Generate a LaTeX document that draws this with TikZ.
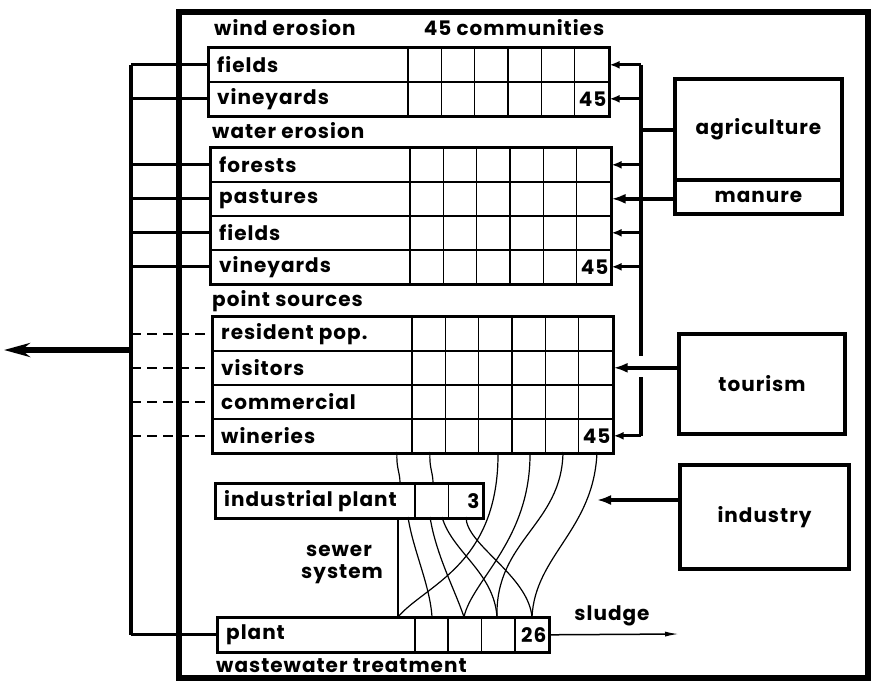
\documentclass[tikz,border=0pt]{standalone}
\usepackage{fontspec}
\setmainfont{Poppins}[LetterSpace=5]
\usetikzlibrary{arrows.meta}
\newcommand\lblfont{\fontsize{20}{17}\selectfont\bfseries}
\newcommand\trow[5]{%
  \node[rowbox,minimum width=#4pt,anchor=north west] (#1) at (#2,#3) {};
  \node[lbl,anchor=west] (#1t) at ([xshift=9pt]#1.west) {#5};}
\tikzset{
  rowbox/.style={draw, line width=1.6pt, minimum height=34pt, inner sep=0pt},
  lbl/.style={font=\lblfont, inner sep=0pt},
  tframe/.style={line width=2.6pt},
  cellline/.style={line width=1.4pt},
  outerframe/.style={line width=5.5pt},
  bigbox/.style={draw, line width=4pt, inner sep=0pt, font=\lblfont},
  lconn/.style={line width=3pt},
  dconn/.style={line width=2.6pt, dash pattern=on 10pt off 6pt},
  bus/.style={line width=4pt},
  feed/.style={line width=3pt, -{Latex[length=10pt,width=8pt]}},
  thickfeed/.style={line width=4pt, -{Latex[length=14pt,width=10pt]}},
  outarrow/.style={line width=5.5pt, -{Stealth[length=26pt,width=14pt]}},
  sewer/.style={line width=1.2pt},
  sludgearrow/.style={line width=1.5pt, -{Latex[length=14pt,width=5pt]}},
}
\begin{document}
\begin{tikzpicture}[x=1pt,y=-1pt]
\useasboundingbox (0,0) rectangle (872,685);
% outer frame
\draw[outerframe] (179,12) rectangle (868,678);

% headings
\node[lbl,anchor=west] (hwind) at (214,28) {wind erosion};
\node[lbl] (hcomm) at (514,28) {45 communities};
\node[lbl,anchor=west] (hwater) at (212,131) {water erosion};
\node[lbl,anchor=west] (hpoint) at (212,301) {point sources};

% wind erosion table
\trow{wf}{208}{47}{400}{fields}
\trow{wv}{208}{81}{400}{vineyards}
\draw[tframe] (wf.north west) rectangle (wv.south east);
\foreach \k in {0,...,5}{\pgfmathsetmacro\xx{408+\k*33.333}
  \draw[cellline] (\xx,47) -- (\xx,115);}
\node[lbl,anchor=east] (wv45) at ([xshift=-3pt]wv.east) {45};

% water erosion table
\trow{ef}{210}{147}{400}{forests}
\trow{ep}{210}{181}{400}{pastures}
\trow{ei}{210}{215}{400}{fields}
\trow{ev}{210}{249}{400}{vineyards}
\draw[tframe] (ef.north west) rectangle (ev.south east);
\foreach \k in {0,...,5}{\pgfmathsetmacro\xx{410+\k*33.333}
  \draw[cellline] (\xx,147) -- (\xx,283);}
\node[lbl,anchor=east] (ev45) at ([xshift=-3pt]ev.east) {45};

% point sources table
\trow{pr}{212}{316}{400}{resident pop.}
\trow{pv}{212}{350}{400}{visitors}
\trow{pc}{212}{384}{400}{commercial}
\trow{pw}{212}{418}{400}{wineries}
\draw[tframe] (pr.north west) rectangle (pw.south east);
\foreach \k in {0,...,5}{\pgfmathsetmacro\xx{412+\k*33.333}
  \draw[cellline] (\xx,316) -- (\xx,452);}
\node[lbl,anchor=east] (pw45) at ([xshift=-3pt]pw.east) {45};

% industrial plant
\trow{ind}{215}{483}{267}{industrial plant}
\draw[tframe] (ind.north west) rectangle (ind.south east);
\foreach \xx in {415,448.5}{\draw[cellline] (\xx,483) -- (\xx,517);}
\node[lbl,anchor=east] (ind3) at ([xshift=-4pt]ind.east) {3};

% wastewater treatment plant
\trow{pl}{217}{617}{331}{plant}
\draw[tframe] (pl.north west) rectangle (pl.south east);
\foreach \xx in {415,448,481.5,515}{\draw[cellline] (\xx,617) -- (\xx,651);}
\node[lbl,anchor=east] (pl26) at ([xshift=-3pt]pl.east) {26};
\node[lbl,anchor=west] (hww) at (216,666) {wastewater treatment};
\node[lbl] (sewer1) at (339,551) {sewer};
\node[lbl] (sewer2) at (342,574) {system};

% sector boxes
\node[bigbox,minimum width=167pt,minimum height=101pt,anchor=north west] (agri) at (673,77) {agriculture};
\node[bigbox,minimum width=167pt,minimum height=34pt,anchor=north west] (man) at (673,178) {manure};
\node[bigbox,minimum width=166pt,minimum height=100pt,anchor=north west] (tour) at (677,332) {tourism};
\node[bigbox,minimum width=169pt,minimum height=104pt,anchor=north west] (indy) at (678,463) {industry};

% left collector bus
\coordinate (lb) at (131,0);
\draw[bus] (wf.west -| lb) -- (pl.west -| lb);
\foreach \r in {wf,wv,ef,ep,ei,ev}{\draw[lconn] (\r.west -| lb) -- (\r.west);}
\foreach \r in {pr,pv,pc,pw}{\draw[dconn] (\r.west -| lb) -- (\r.west);}
\draw[lconn] (pl.west -| lb) -- (pl.west);
\coordinate (outs) at (131,350);
\coordinate (oute) at (4,350);
\draw[outarrow] (outs) -- (oute);

% right feeder bus
\coordinate (rb) at (641,0);
\coordinate (rgapT) at (641,356);
\coordinate (rgapB) at (641,377);
\draw[bus] (wf.east -| rb) -- (rgapT);
\draw[bus] (rgapB) -- (pw.east -| rb);
\draw[bus] (agri.west) -- (agri.west -| rb);
\foreach \r in {wf,wv,ef,ei,ev,pw}{\draw[feed] (\r.east -| rb) -- (\r.east);}
\draw[thickfeed] (ep.east -| man.west) -- (ep.east);
\draw[thickfeed] (pv.east -| tour.west) -- (pv.east);
\coordinate (indys) at (678,500);
\coordinate (indye) at (597,500);
\draw[thickfeed] (indys) -- (indye);

% sludge
\coordinate (sludgee) at (679,634);
\draw[sludgearrow] (pl.east) -- (sludgee);
\node[lbl] (sludge) at (612,616) {sludge};

% sewer system
\coordinate (a1) at (397,452); \coordinate (a2) at (430,452);
\coordinate (a3) at (498,452); \coordinate (a4) at (530,452);
\coordinate (a5) at (563,452); \coordinate (a6) at (597,452);
\coordinate (i1) at (400,483); \coordinate (i2) at (433,483);
\coordinate (b1) at (398,517); \coordinate (b2) at (408,517);
\coordinate (b3) at (430,517); \coordinate (b4) at (442,517);
\coordinate (b5) at (466,517);
\coordinate (p1) at (398,617); \coordinate (p2) at (432,617);
\coordinate (p3) at (464,617); \coordinate (p4) at (497,617);
\coordinate (p5) at (532,617);
\draw[sewer] (a1) .. controls (396,468) and (400,472) .. (i1);
\draw[sewer] (a2) .. controls (429,468) and (433,472) .. (i2);
\draw[sewer] (b1) -- (p1);
\draw[sewer] (b2) .. controls (413,550) and (430,585) .. (p2);
\draw[sewer] (b3) .. controls (436,555) and (455,590) .. (p3);
\draw[sewer] (b4) .. controls (452,552) and (494,572) .. (p4);
\draw[sewer] (b5) .. controls (466,545) and (528,575) .. (p5);
\draw[sewer] (a3) .. controls (499,565) and (425,585) .. (p1);
\draw[sewer] (a4) .. controls (531,540) and (472,580) .. (p3);
\draw[sewer] (a5) .. controls (562,525) and (495,540) .. (p4);
\draw[sewer] (a6) .. controls (594,530) and (535,555) .. (p5);
\end{tikzpicture}
\end{document}
